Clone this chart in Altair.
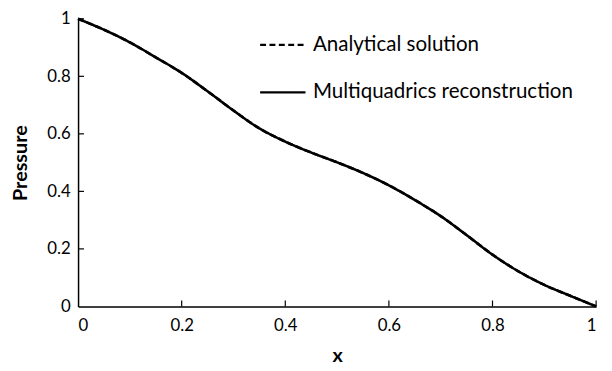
import altair as alt
import pandas as pd

# Data
x_vals = [0.00, 0.05, 0.10, 0.15, 0.20, 0.25, 0.30, 0.35, 0.40, 0.45, 0.50,
          0.55, 0.60, 0.65, 0.70, 0.75, 0.80, 0.85, 0.90, 0.95, 1.00]
p_vals = [1.000, 0.962, 0.918, 0.866, 0.812, 0.748, 0.681, 0.619, 0.573, 0.535, 0.501,
          0.464, 0.421, 0.370, 0.314, 0.248, 0.180, 0.122, 0.075, 0.037, 0.000]
series_names = ["Analytical solution", "Multiquadrics reconstruction"]
tick_vals = [0.2, 0.4, 0.6, 0.8, 1.0]

rows = []
for s in series_names:
    for xv, pv in zip(x_vals, p_vals):
        rows.append({"x": xv, "p": pv, "series": s})
df = pd.DataFrame(rows)
ticks_df = pd.DataFrame({"t": tick_vals})

W, H = 525, 291.5
FONT = "Lato"

xscale = alt.Scale(domain=[0, 1], nice=False, zero=False)
yscale = alt.Scale(domain=[0, 1], nice=False, zero=False)

lines = alt.Chart(df).mark_line(color="black", strokeWidth=2.6, interpolate="catmull-rom").encode(
    x=alt.X("x:Q", scale=xscale,
            axis=alt.Axis(values=[0, 0.2, 0.4, 0.6, 0.8, 1], format="~g", title="x",
                          titleX=W / 2, titleY=50, titleBaseline="middle",
                          labelPadding=11, ticks=False, grid=False)),
    y=alt.Y("p:Q", scale=yscale,
            axis=alt.Axis(values=[0, 0.2, 0.4, 0.6, 0.8, 1], format="~g", title="Pressure",
                          titleX=-58, titleY=H / 2, titleBaseline="middle", titleAlign="center",
                          labelPadding=8, ticks=False, grid=False)),
    strokeDash=alt.StrokeDash("series:N",
                              scale=alt.Scale(domain=series_names, range=[[6, 3.5], [1, 0]]),
                              sort=series_names,
                              legend=alt.Legend(title=None, orient="none", legendX=183, legendY=2,
                                                symbolType="stroke", symbolSize=2116,
                                                symbolStrokeWidth=2.2, symbolStrokeColor="black",
                                                labelFont=FONT, labelFontSize=20.8, labelOffset=6,
                                                labelLimit=0, labelColor="black",
                                                rowPadding=13, padding=0)),
    order=alt.Order("series:N"),
)

xticks = alt.Chart(ticks_df).mark_rule(color="black", strokeWidth=1.2).encode(
    x=alt.X("t:Q", scale=xscale),
    y=alt.value(H),
    y2=alt.value(H - 6),
)
yticks = alt.Chart(ticks_df).mark_rule(color="black", strokeWidth=1.2).encode(
    y=alt.Y("t:Q", scale=yscale),
    x=alt.value(0),
    x2=alt.value(6),
)

chart = alt.layer(lines, xticks, yticks).properties(
    width=W, height=H,
    background="white",
    autosize=alt.AutoSizeParams(type="none"),
    padding={"left": 71, "top": 8.5, "right": 8, "bottom": 63},
).configure_view(stroke=None).configure_axis(
    domainColor="black", domainWidth=1.5,
    labelFont=FONT, labelFontSize=17, labelColor="black",
    titleFont=FONT, titleFontSize=20, titleFontWeight="bold", titleColor="black",
)

chart.save("out.html", embed_options={"renderer": "svg", "actions": False})
